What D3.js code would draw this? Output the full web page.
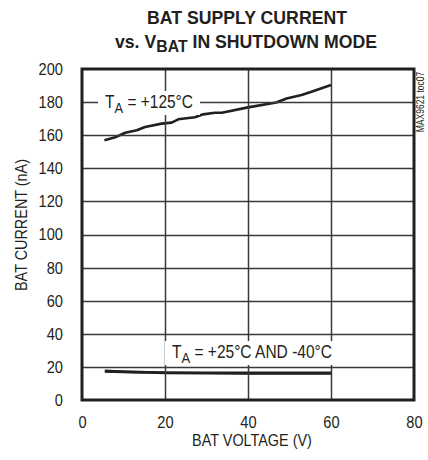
<!DOCTYPE html>
<html>
<head>
<meta charset="utf-8">
<script src="https://cdn.jsdelivr.net/npm/d3@7"></script>
<style>
  body { margin: 0; background: #fff; }
  svg { display: block; }
  text { font-family: "Liberation Sans", Arial, sans-serif; fill: #231f20; }
</style>
</head>
<body>
<div id="container"></div>
<script>
// values
const xTicks = [0, 20, 40, 60, 80];
const yTicks = [0, 20, 40, 60, 80, 100, 120, 140, 160, 180, 200];

const volts125 = [5.4, 8, 10.4, 13.2, 15.2, 19.2, 21.6, 23.2, 27.2, 29.2, 32, 33.7, 40, 46.8, 49.3, 52.9, 55.3, 60];
const current125 = [157, 158.7, 161.5, 163, 165, 167, 167.6, 169.6, 170.8, 172.6, 173.6, 173.6, 176.8, 179.8, 182.2, 184.3, 186.3, 190.3];

const volts25 = [5.5, 8, 12, 16, 20, 30, 40, 50, 60];
const current25 = [17.6, 17.3, 17.0, 16.8, 16.6, 16.5, 16.4, 16.4, 16.4];

const voltsM40 = [5.5, 10, 16, 20, 30, 40, 50, 60];
const currentM40 = [17.2, 16.9, 16.6, 16.3, 16.2, 16.1, 16.1, 16.1];

const W = 428, H = 460;
const svg = d3.select("#container")
  .append("svg")
  .attr("width", W)
  .attr("height", H);

const x = d3.scaleLinear().domain([0, 80]).range([82, 414]);
const y = d3.scaleLinear().domain([0, 200]).range([400, 69]);

// squeeze text horizontally, the original uses a condensed face
function narrow(sel, k) {
  sel.each(function() {
    const len = this.getComputedTextLength();
    d3.select(this).attr("textLength", len * k).attr("lengthAdjust", "spacingAndGlyphs");
  });
}

// title
const title = svg.append("g").attr("text-anchor", "middle");
const t1 = title.append("text")
  .attr("x", 247).attr("y", 24)
  .attr("font-size", 19)
  .attr("font-weight", "bold")
  .text("BAT SUPPLY CURRENT");
const t2 = title.append("text")
  .attr("x", 246).attr("y", 48)
  .attr("font-size", 19)
  .attr("font-weight", "bold");
t2.append("tspan").text("vs. V");
t2.append("tspan").attr("font-size", 17).attr("dy", 4).text("BAT");
t2.append("tspan").attr("dy", -4).text(" IN SHUTDOWN MODE");
narrow(t1, 0.93);
narrow(t2, 0.93);

// axes (labels only, no tick marks)
const xAxis = svg.append("g")
  .attr("transform", `translate(0, ${y(0)})`)
  .call(d3.axisBottom(x).tickValues(xTicks).tickSize(0).tickPadding(16));
const yAxis = svg.append("g")
  .attr("transform", `translate(${x(0)}, 0)`)
  .call(d3.axisLeft(y).tickValues(yTicks).tickSize(0).tickPadding(19));
[xAxis, yAxis].forEach(a => {
  a.select(".domain").remove();
  a.selectAll("line").remove();
  a.selectAll("text").attr("font-size", 17).attr("fill", "#231f20")
    .attr("font-family", "\"Liberation Sans\", Arial, sans-serif");
  narrow(a.selectAll("text"), 0.86);
});

// axis titles
const xt = svg.append("text")
  .attr("x", 252).attr("y", 446)
  .attr("text-anchor", "middle")
  .attr("font-size", 16)
  .text("BAT VOLTAGE (V)");
const yt = svg.append("text")
  .attr("transform", "translate(27, 225) rotate(-90)")
  .attr("text-anchor", "middle")
  .attr("font-size", 16)
  .text("BAT CURRENT (nA)");
narrow(xt, 0.9);
narrow(yt, 0.9);

// data lines
const line = d3.line().x(d => x(d[0])).y(d => y(d[1]));
const series = [
  [volts125, current125],
  [volts25, current25],
  [voltsM40, currentM40]
];
svg.append("g").selectAll("path")
  .data(series)
  .join("path")
  .attr("d", s => line(s[0].map((v, i) => [v, s[1][i]])))
  .attr("fill", "none")
  .attr("stroke", "#231f20")
  .attr("stroke-width", 2.6)
  .attr("stroke-linejoin", "round");

// grid, drawn above the curves this time
const grid = svg.append("g").attr("class", "grid");
grid.selectAll("path.gv")
  .data(xTicks.slice(1, -1))
  .join("path")
  .attr("class", "gv")
  .attr("d", d => `M${Math.round(x(d)) + 0.5},${y(0)}L${Math.round(x(d)) + 0.5},${y(200)}`);
grid.selectAll("path.gh")
  .data(yTicks.slice(1, -1))
  .join("path")
  .attr("class", "gh")
  .attr("d", d => `M${x(0)},${Math.round(y(d)) + 0.5}L${x(80)},${Math.round(y(d)) + 0.5}`);
grid.selectAll("path")
  .attr("fill", "none")
  .attr("stroke", "#3a3a3a")
  .attr("stroke-width", 1.5);

// curve labels with white backgrounds, on top of the grid
function curveLabel(x0, base, w, rest) {
  const g = svg.append("g");
  g.append("rect")
    .attr("x", x0 - 7).attr("y", base - 17)
    .attr("width", w + 14).attr("height", 24)
    .attr("fill", "#fff");
  const t = g.append("text")
    .attr("x", x0).attr("y", base)
    .attr("font-size", 18);
  t.append("tspan").text("T");
  t.append("tspan").attr("font-size", 15).attr("dy", 5).text("A");
  t.append("tspan").attr("dy", -5).text(rest);
  t.attr("textLength", w).attr("lengthAdjust", "spacingAndGlyphs");
}
curveLabel(105, 108, 88, " = +125°C");
curveLabel(172, 358, 160, " = +25°C AND -40°C");

// frame
svg.append("rect")
  .attr("x", x(0)).attr("y", y(200))
  .attr("width", x(80) - x(0)).attr("height", y(0) - y(200))
  .attr("fill", "none")
  .attr("stroke", "#231f20")
  .attr("stroke-width", 3);

// part number tag
const tag = svg.append("text")
  .attr("transform", "translate(424, 102) rotate(-90)")
  .attr("text-anchor", "middle")
  .attr("font-size", 10)
  .text("MAX9621 toc07");
narrow(tag, 0.85);
</script>
</body>
</html>
